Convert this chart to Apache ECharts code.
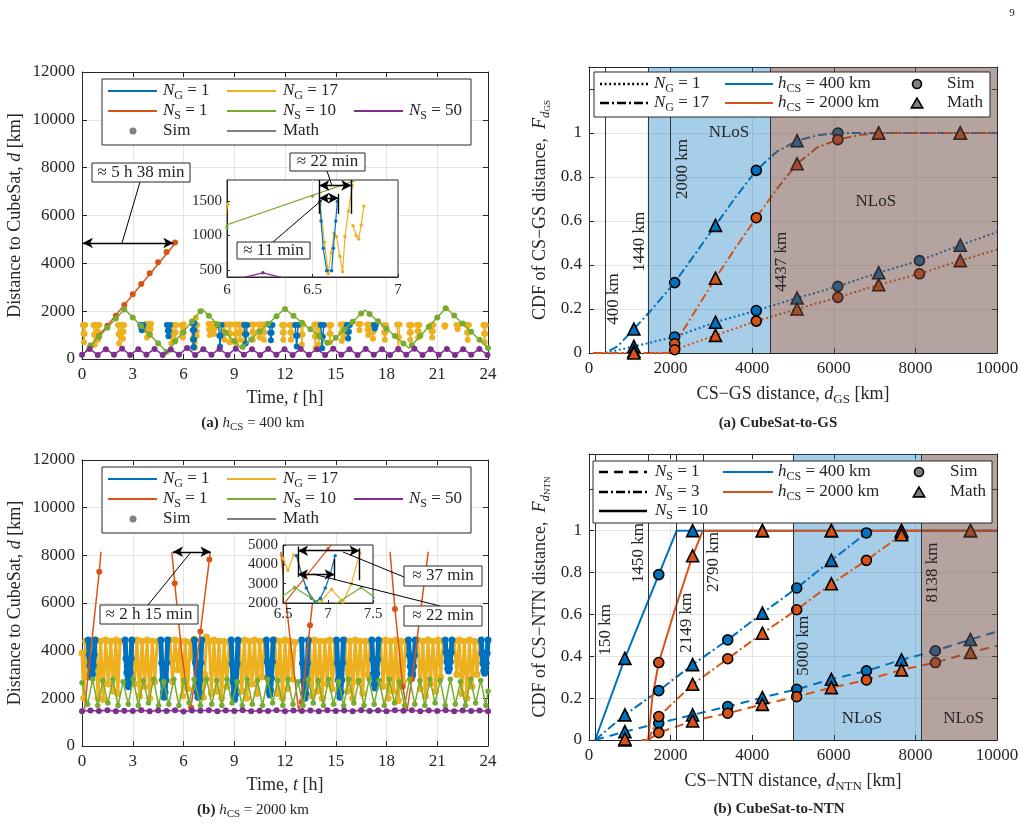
<!DOCTYPE html>
<html>
<head>
<meta charset="utf-8">
<script src="https://cdn.jsdelivr.net/npm/echarts@6.0.0/dist/echarts.min.js"></script>
<style>
  html, body { margin: 0; padding: 0; background: #fff; }
  #chart { width: 1034px; height: 826px; }
</style>
</head>
<body>
<div id="chart"></div>
<script>
// MATLAB default colour order
const BLUE = '#0072BD', ORANGE = '#D95319', YELLOW = '#EDB120', PURPLE = '#7E2F8E', GREEN = '#77AC30';
const INK = '#262626';
const SERIF = '"Liberation Serif", "DejaVu Serif", serif';

// ---------------- (a) h_CS = 400 km : distance vs time ----------------
// N_S = 1
const orangeA_math = [[0.45, 500], [5.55, 4870]];
const orangeA_sim = [[0.5, 530], [1.0, 950], [1.5, 1390], [2.0, 1810], [2.5, 2260], [3.0, 2710], [3.5, 3140],
  [4.0, 3590], [4.5, 4050], [5.0, 4470], [5.5, 4870]];
// N_S = 10
const greenA_math = [[0.2, 330], [2.52, 2080], [5.0, 300], [7.1, 2090], [9.42, 450], [11.98, 2100], [14.6, 620],
  [16.73, 2050], [19.33, 450], [21.52, 2140], [24, 460]];
const greenA_sim = [[0.5, 560], [1, 930], [1.5, 1310], [2, 1690], [2.5, 2070], [3, 1740], [3.5, 1380], [4, 1020],
  [4.5, 660], [5, 300], [5.5, 730], [6, 1110], [6.5, 1570], [7, 2000], [7.5, 1810], [8, 1450], [8.5, 1100],
  [9, 750], [9.5, 500], [10, 820], [10.5, 1150], [11, 1470], [11.5, 1790], [12, 2090], [12.5, 1810], [13, 1520],
  [13.5, 1240], [14, 960], [14.5, 680], [15, 890], [15.5, 1220], [16, 1560], [16.5, 1900], [17, 1880], [17.5, 1580],
  [18, 1270], [18.5, 960], [19, 650], [19.5, 580], [20, 970], [20.5, 1350], [21, 1740], [21.5, 2120], [22, 1820],
  [22.5, 1480], [23, 1140], [23.5, 800], [24, 460]];
// N_S = 50
const purpleA = [[0, 180], [0.45, 420], [0.93, 170], [1.41, 410], [1.89, 180], [2.37, 430], [2.85, 170], [3.33, 410],
  [3.81, 180], [4.29, 420], [4.77, 170], [5.25, 400], [5.73, 180], [6.21, 460], [6.69, 170], [7.17, 410], [7.65, 180],
  [8.13, 420], [8.61, 170], [9.09, 430], [9.57, 180], [10.05, 410], [10.53, 170], [11.01, 420], [11.49, 180],
  [11.97, 410], [12.45, 170], [12.93, 420], [13.41, 180], [13.89, 410], [14.37, 170], [14.85, 430], [15.33, 180],
  [15.81, 410], [16.29, 170], [16.77, 420], [17.25, 180], [17.73, 410], [18.21, 170], [18.69, 420], [19.17, 180],
  [19.65, 430], [20.13, 170], [20.61, 410], [21.09, 180], [21.57, 420], [22.05, 170], [22.53, 410], [23.01, 180],
  [23.49, 420], [23.97, 170]];
// N_G = 1 passes
const blueA = [
  [[3.45, 1420], [3.5, 1310], [3.54, 1200], [3.58, 1310], [3.63, 1420]],
  [[5.02, 1420], [5.07, 1185], [5.11, 950], [5.15, 1185], [5.2, 1420]],
  [[6.544, 1490], [6.55, 1210], [6.563, 814], [6.583, 490], [6.612, 490], [6.622, 814], [6.636, 1210], [6.645, 1490]],
  [[8.07, 1420], [8.12, 970], [8.16, 520], [8.2, 970], [8.25, 1420]],
  [[9.59, 1420], [9.64, 1035], [9.68, 650], [9.72, 1035], [9.77, 1420]],
  [[11.08, 1420], [11.13, 1100], [11.17, 780], [11.21, 1100], [11.26, 1420]],
  [[12.6, 1420], [12.65, 970], [12.69, 520], [12.73, 970], [12.78, 1420]],
  [[14.11, 1420], [14.16, 935], [14.2, 450], [14.24, 935], [14.29, 1420]],
  [[15.65, 1420], [15.7, 1140], [15.74, 860], [15.78, 1140], [15.83, 1420]],
  [[17.25, 1420], [17.31, 1280], [17.37, 1420]]
];
// N_G = 17 passes
const yellowA = [
  [[0.05, 1420], [0.085, 1060], [0.12, 700], [0.155, 1060], [0.19, 1420]],
  [[0.68, 1420], [0.715, 1010], [0.75, 600], [0.785, 1010], [0.82, 1420]],
  [[0.88, 1420], [0.915, 1110], [0.95, 800], [0.985, 1110], [1.02, 1420]],
  [[2.13, 1420], [2.165, 1035], [2.2, 650], [2.235, 1035], [2.27, 1420]],
  [[2.35, 1420], [2.385, 1135], [2.42, 850], [2.455, 1135], [2.49, 1420]],
  [[3.77, 1460], [3.805, 1180], [3.84, 900], [3.875, 1180], [3.91, 1460]],
  [[3.95, 1460], [3.985, 1230], [4.02, 1000], [4.055, 1230], [4.09, 1460]],
  [[5.21, 1420], [5.245, 1035], [5.28, 650], [5.315, 1035], [5.35, 1420]],
  [[5.43, 1420], [5.465, 1110], [5.5, 800], [5.535, 1110], [5.57, 1420]],
  [[5.89, 1420], [5.925, 1100], [5.96, 900], [5.99, 1250], [6.005, 1450]],
  [[6.545, 1440], [6.57, 900], [6.592, 452], [6.61, 750], [6.626, 1030], [6.64, 983], [6.66, 700], [6.676, 476],
    [6.69, 985], [6.71, 1350], [6.733, 1720]],
  [[6.737, 1140], [6.755, 1000], [6.77, 950], [6.785, 1150], [6.8, 1420]],
  [[7.48, 1460], [7.515, 1230], [7.55, 1000], [7.585, 1230], [7.62, 1460]],
  [[7.73, 1460], [7.765, 1250], [7.8, 1050], [7.835, 1250], [7.87, 1460]],
  [[8.36, 1440], [8.395, 1120], [8.43, 800], [8.465, 1120], [8.5, 1440]],
  [[8.66, 1440], [8.695, 1070], [8.73, 700], [8.765, 1070], [8.8, 1440]],
  [[9.03, 1440], [9.065, 1045], [9.1, 650], [9.135, 1045], [9.17, 1440]],
  [[9.28, 1440], [9.315, 1120], [9.35, 800], [9.385, 1120], [9.42, 1440]],
  [[9.53, 1440], [9.565, 1070], [9.6, 700], [9.635, 1070], [9.67, 1440]],
  [[10.03, 1440], [10.065, 1120], [10.1, 800], [10.135, 1120], [10.17, 1440]],
  [[10.43, 1440], [10.465, 1170], [10.5, 900], [10.535, 1170], [10.57, 1440]],
  [[10.68, 1440], [10.715, 1120], [10.75, 800], [10.785, 1120], [10.82, 1440]],
  [[11.83, 1420], [11.865, 1110], [11.9, 800], [11.935, 1110], [11.97, 1420]],
  [[12.28, 1420], [12.315, 1110], [12.35, 800], [12.385, 1110], [12.42, 1420]],
  [[12.93, 1440], [12.965, 1020], [13.0, 600], [13.035, 1020], [13.07, 1440]],
  [[13.73, 1440], [13.765, 945], [13.8, 450], [13.835, 945], [13.87, 1440]],
  [[13.93, 1440], [13.965, 1020], [14.0, 600], [14.035, 1020], [14.07, 1440]],
  [[14.59, 1420], [14.625, 1060], [14.66, 700], [14.695, 1060], [14.73, 1420]],
  [[15.28, 1440], [15.315, 1095], [15.35, 750], [15.385, 1095], [15.42, 1440]],
  [[15.48, 1440], [15.515, 1170], [15.55, 900], [15.585, 1170], [15.62, 1440]],
  [[16.34, 1460], [16.4, 1200], [16.46, 1460]],
  [[16.85, 1440], [16.885, 1220], [16.92, 1000], [16.955, 1220], [16.99, 1440]],
  [[17.13, 1420], [17.165, 1135], [17.2, 850], [17.235, 1135], [17.27, 1420]],
  [[17.83, 1420], [17.865, 1110], [17.9, 800], [17.935, 1110], [17.97, 1420]],
  [[18.63, 1440], [18.665, 920], [18.7, 400], [18.735, 920], [18.77, 1440]],
  [[19.33, 1420], [19.365, 1110], [19.4, 800], [19.435, 1110], [19.47, 1420]],
  [[19.8, 1420], [19.835, 1160], [19.87, 900], [19.905, 1160], [19.94, 1420]],
  [[20.63, 1420], [20.665, 1160], [20.7, 900], [20.735, 1160], [20.77, 1420]],
  [[21.42, 1400], [21.45, 1350], [21.48, 1400]],
  [[22.14, 1420], [22.2, 1250], [22.26, 1420]],
  [[22.73, 1420], [22.765, 1110], [22.8, 800], [22.835, 1110], [22.87, 1420]],
  [[23.73, 1420], [23.765, 1060], [23.8, 700], [23.835, 1060], [23.87, 1420]]
];

// ---------------- (b) h_CS = 2000 km : distance vs time ----------------
const orangeC_math = [
  [[0.15, 1550], [1.02, 7310], [1.12, 8150]],
  [[5.31, 8150], [5.48, 6830], [5.9, 3900], [6.2, 2300], [6.42, 1580], [6.5, 1900], [7.0, 4800], [7.53, 7830], [7.58, 8150]],
  [[11.75, 8150], [12.3, 4500], [12.8, 1510], [12.98, 1860], [13.48, 5070], [13.96, 8150]],
  [[18.21, 8150], [18.5, 5750], [18.96, 2490], [19.22, 1500], [19.6, 3300], [20.0, 5600], [20.47, 8150]]
];
const orangeC_sim = [[1.02, 7310], [5.48, 6830], [6.45, 1600], [7.0, 4800], [7.53, 7830], [12.98, 1860], [13.48, 5070],
  [18.5, 5750], [18.96, 2490], [19.5, 2800]];
const greenC = [[0, 2650], [0.33, 1750], [0.63, 2800], [0.93, 1700], [1.23, 2750], [1.53, 1800], [1.83, 2800],
  [2.13, 1700], [2.43, 2700], [2.73, 1750], [3.03, 2800], [3.33, 1700], [3.63, 2750], [3.93, 1800], [4.23, 2800],
  [4.53, 1700], [4.83, 2700], [5.13, 1750], [5.43, 2800], [5.73, 1700], [6.03, 2750], [6.33, 1800], [6.63, 2800],
  [7.0, 1700], [7.37, 2800], [7.67, 1750], [7.97, 2750], [8.27, 1700], [8.57, 2800], [8.87, 1800], [9.17, 2700],
  [9.47, 1700], [9.77, 2800], [10.07, 1750], [10.37, 2750], [10.67, 1700], [10.97, 2800], [11.27, 1800], [11.57, 2750],
  [11.87, 1700], [12.17, 2800], [12.47, 1750], [12.77, 2700], [13.07, 1700], [13.37, 2800], [13.67, 1800], [13.97, 2750],
  [14.27, 1700], [14.57, 2800], [14.87, 1750], [15.17, 2700], [15.47, 1700], [15.77, 2800], [16.07, 1800], [16.37, 2750],
  [16.67, 1700], [16.97, 2800], [17.27, 1750], [17.57, 2750], [17.87, 1700], [18.17, 2800], [18.47, 1800], [18.77, 2700],
  [19.07, 1700], [19.37, 2800], [19.67, 1750], [19.97, 2750], [20.27, 1700], [20.57, 2800], [20.87, 1800], [21.17, 2750],
  [21.47, 1700], [21.77, 2800], [22.07, 1750], [22.37, 2700], [22.67, 1700], [22.97, 2800], [23.27, 1800], [23.57, 2750],
  [23.87, 1700], [24, 2300]];
const purpleC = [[0, 1460], [0.5, 1490], [1, 1470], [1.5, 1500], [2, 1460], [2.5, 1480], [3, 1470], [3.5, 1500],
  [4, 1460], [4.5, 1490], [5, 1470], [5.5, 1500], [6, 1450], [6.5, 1490], [7, 1480], [7.5, 1500], [8, 1460],
  [8.5, 1490], [9, 1470], [9.5, 1500], [10, 1460], [10.5, 1480], [11, 1470], [11.5, 1500], [12, 1460], [12.5, 1490],
  [13, 1470], [13.5, 1490], [14, 1460], [14.5, 1500], [15, 1470], [15.5, 1490], [16, 1460], [16.5, 1500], [17, 1470],
  [17.5, 1490], [18, 1460], [18.5, 1500], [19, 1480], [19.5, 1500], [20, 1460], [20.5, 1490], [21, 1470], [21.5, 1500],
  [22, 1460], [22.5, 1490], [23, 1470], [23.5, 1490], [24, 1460]];
const blueC = [
  [[0.37, 4450], [0.42, 3830], [0.47, 3365], [0.52, 3025], [0.57, 2900], [0.62, 3025], [0.67, 3365], [0.72, 3830], [0.77, 4450]],
  [[2.55, 4450], [2.6, 3670], [2.65, 3080], [2.7, 2650], [2.75, 2490], [2.8, 2650], [2.85, 3080], [2.9, 3670], [2.95, 4450]],
  [[4.66, 4450], [4.71, 3490], [4.76, 2770], [4.81, 2240], [4.86, 2050], [4.91, 2240], [4.96, 2770], [5.01, 3490], [5.06, 4450]],
  [[6.65, 4450], [6.705, 3490], [6.76, 2770], [6.815, 2240], [6.86, 2050], [6.915, 2240], [6.97, 2770], [7.025, 3490], [7.08, 4450]],
  [[8.82, 4450], [8.87, 3450], [8.92, 2700], [8.97, 2150], [9.02, 1950], [9.07, 2150], [9.12, 2700], [9.17, 3450], [9.22, 4450]],
  [[10.9, 4450], [10.95, 3530], [11.0, 2840], [11.05, 2330], [11.1, 2150], [11.15, 2330], [11.2, 2840], [11.25, 3530], [11.3, 4450]],
  [[12.98, 4450], [13.03, 3470], [13.08, 2740], [13.13, 2200], [13.18, 2000], [13.23, 2200], [13.28, 2740], [13.33, 3470], [13.38, 4450]],
  [[15.05, 4450], [15.1, 3490], [15.15, 2770], [15.2, 2240], [15.25, 2050], [15.3, 2240], [15.35, 2770], [15.4, 3490], [15.45, 4450]],
  [[17.13, 4450], [17.18, 3640], [17.23, 3040], [17.28, 2590], [17.33, 2430], [17.38, 2590], [17.43, 3040], [17.48, 3640], [17.53, 4450]],
  [[19.3, 4450], [19.35, 3820], [19.4, 3350], [19.45, 3010], [19.5, 2880], [19.55, 3010], [19.6, 3350], [19.65, 3820], [19.7, 4450]],
  [[21.47, 4450], [21.52, 3930], [21.57, 3540], [21.62, 3250], [21.67, 3150], [21.72, 3250], [21.77, 3540], [21.82, 3930], [21.87, 4450]],
  [[23.6, 4450], [23.65, 3890], [23.7, 3470], [23.75, 3160], [23.8, 3050], [23.85, 3160], [23.9, 3470], [23.95, 3890], [24.0, 4450]]
];
const yellowC = [
  [[0, 3900], [0.1, 2000], [0.22, 4400], [0.33, 2900], [0.45, 4400]],
  [[0.8, 4450], [0.95, 2000], [1.1, 4400], [1.25, 1950], [1.4, 4450], [1.55, 2600], [1.7, 4400], [1.85, 2300],
    [2.0, 4450], [2.12, 2200], [2.25, 4400]],
  [[2.95, 4400], [3.1, 2600], [3.25, 4450], [3.4, 2100], [3.55, 4400], [3.7, 2500], [3.85, 4450], [4.0, 2000],
    [4.15, 4400], [4.3, 2700], [4.45, 4400]],
  [[5.2, 4450], [5.35, 2700], [5.5, 4450], [5.65, 3200], [5.8, 4400], [5.95, 2100], [6.1, 4400], [6.25, 2400],
    [6.4, 4350], [6.5, 4310], [6.555, 3700], [6.62, 4480], [6.65, 4450], [6.76, 2770], [6.86, 2050], [6.93, 2140],
    [7.04, 2700], [7.167, 2050], [7.26, 3000], [7.352, 4570]],
  [[7.52, 4400], [7.65, 2200], [7.8, 4450], [7.95, 2300], [8.1, 4400], [8.25, 2000], [8.4, 4400], [8.55, 2500], [8.7, 4350]],
  [[9.3, 4400], [9.45, 2300], [9.6, 4450], [9.75, 2000], [9.9, 4400], [10.05, 2600], [10.2, 4450], [10.35, 2200],
    [10.5, 4400], [10.65, 2900], [10.8, 4400]],
  [[11.4, 4450], [11.55, 2200], [11.7, 4400], [11.85, 2000], [12.0, 4450], [12.15, 2400], [12.3, 4400], [12.45, 2800], [12.6, 4350]],
  [[13.45, 4400], [13.6, 2100], [13.75, 4450], [13.9, 2300], [14.05, 4400], [14.2, 2000], [14.35, 4400], [14.5, 2600],
    [14.65, 4450], [14.8, 2400], [14.95, 4400]],
  [[15.55, 4450], [15.7, 2300], [15.85, 4400], [16.0, 2000], [16.15, 4450], [16.3, 2700], [16.45, 4400], [16.6, 2200],
    [16.75, 4400], [16.9, 3000], [17.05, 4350]],
  [[17.65, 4400], [17.8, 2500], [17.95, 4450], [18.1, 2000], [18.25, 4400], [18.4, 2300], [18.55, 4450], [18.7, 1900],
    [18.85, 4400], [19.0, 2700], [19.15, 4400]],
  [[19.85, 4450], [20.0, 2400], [20.15, 4400], [20.3, 2100], [20.45, 4450], [20.6, 2600], [20.75, 4400], [20.9, 2300],
    [21.05, 4450], [21.2, 2900], [21.35, 4400]],
  [[22.0, 4400], [22.15, 3000], [22.3, 4450], [22.45, 2200], [22.6, 4400], [22.75, 2000], [22.9, 4450], [23.05, 2500],
    [23.2, 4400], [23.35, 3000], [23.5, 4350]]
];

// ---------------- CubeSat-to-GS CDF ----------------
const gsBlueRegion = [1440, 4437], gsBrownRegion = [4437, 10000];
const gsRefKm = [400, 1440, 2000, 4437];
const gsG1h400 = [[400, 0], [1100, 0.03], [2100, 0.073], [3100, 0.14], [4100, 0.193], [5100, 0.25], [6100, 0.303],
  [7100, 0.365], [8100, 0.42], [9100, 0.49], [10000, 0.55]];
const gsG17h400 = [[100, 0], [400, 0], [700, 0.03], [1100, 0.109], [1500, 0.19], [2100, 0.32], [2600, 0.45], [3100, 0.58],
  [3600, 0.71], [4100, 0.83], [4600, 0.915], [5100, 0.965], [5600, 0.99], [6100, 1.0], [10000, 1.0]];
const gsG1h2000 = [[100, 0], [2000, 0], [2100, 0.015], [3100, 0.08], [4100, 0.145], [5100, 0.2], [6100, 0.253],
  [7100, 0.31], [8100, 0.36], [9100, 0.42], [10000, 0.47]];
const gsG17h2000 = [[100, 0], [1950, 0], [2100, 0.04], [2600, 0.19], [3100, 0.34], [3600, 0.48], [4100, 0.615],
  [4600, 0.745], [5100, 0.86], [5600, 0.935], [6100, 0.97], [6600, 0.99], [7100, 1.0], [10000, 1.0]];
const gsSimBlue = [[2100, 0.32], [4100, 0.83], [6100, 1.0], [2100, 0.073], [4100, 0.193], [6100, 0.303], [8100, 0.42]];
const gsMathBlue = [[1100, 0.109], [3100, 0.58], [5100, 0.965], [7100, 1.0], [9100, 1.0], [1100, 0.03], [3100, 0.14],
  [5100, 0.25], [7100, 0.365], [9100, 0.49]];
const gsSimOrange = [[2100, 0.042], [4100, 0.615], [6100, 0.97], [2100, 0.015], [4100, 0.145], [6100, 0.253], [8100, 0.36]];
const gsMathOrange = [[1100, 0.008], [3100, 0.34], [5100, 0.86], [7100, 1.0], [9100, 1.0], [1100, 0.0], [3100, 0.08],
  [5100, 0.2], [7100, 0.31], [9100, 0.42]];

// ---------------- CubeSat-to-NTN CDF ----------------
const ntnBlueRegion = [5000, 8138], ntnBrownRegion = [8138, 10000];
const ntnRefKm = [150, 1450, 2149, 2790, 5000, 8138];
const ntnS10h400 = [[150, 0], [880, 0.39], [1710, 0.79], [2149, 1], [10000, 1]];
const ntnS10h2000 = [[1290, 0], [1450, 0], [1550, 0.2], [1710, 0.37], [2100, 0.62], [2540, 0.88], [2790, 1], [10000, 1]];
const ntnS3h400 = [[150, 0], [880, 0.12], [1710, 0.236], [2540, 0.36], [3400, 0.478], [4250, 0.606], [5090, 0.726],
  [5940, 0.858], [6800, 0.989], [6900, 1], [10000, 1]];
const ntnS3h2000 = [[1450, 0], [1710, 0.112], [2540, 0.266], [3400, 0.388], [4250, 0.51], [5090, 0.622], [5940, 0.746],
  [6800, 0.858], [7660, 0.98], [7750, 1], [10000, 1]];
const ntnS1h400 = [[150, 0], [880, 0.04], [1710, 0.08], [2540, 0.12], [3400, 0.16], [4250, 0.203], [5090, 0.242],
  [5940, 0.29], [6800, 0.33], [7660, 0.383], [8490, 0.426], [9350, 0.48], [10000, 0.518]];
const ntnS1h2000 = [[1450, 0], [1710, 0.035], [2540, 0.091], [3400, 0.128], [4250, 0.17], [5090, 0.207], [5940, 0.25],
  [6800, 0.287], [7660, 0.335], [8490, 0.37], [9350, 0.418], [10000, 0.45]];
const ntnSimBlue = [[1710, 0.79], [1710, 0.236], [3400, 0.478], [5090, 0.726], [6800, 0.989], [1710, 0.08], [3400, 0.16],
  [5090, 0.242], [6800, 0.33], [8490, 0.426]];
const ntnMathBlue = [[880, 0.39], [2540, 1], [4250, 1], [5940, 1], [7660, 1], [9350, 1], [880, 0.12], [2540, 0.36],
  [4250, 0.606], [5940, 0.858], [7660, 0.99], [880, 0.04], [2540, 0.12], [4250, 0.203], [5940, 0.29], [7660, 0.383], [9350, 0.48]];
const ntnSimOrange = [[1710, 0.37], [1710, 0.112], [3400, 0.388], [5090, 0.622], [6800, 0.858], [1710, 0.035],
  [3400, 0.128], [5090, 0.207], [6800, 0.287], [8490, 0.37]];
const ntnMathOrange = [[2540, 0.88], [4250, 1], [5940, 1], [7660, 1], [9350, 1], [880, 0], [2540, 0.266], [4250, 0.51],
  [5940, 0.746], [7660, 0.98], [880, 0.005], [2540, 0.091], [4250, 0.17], [5940, 0.25], [7660, 0.335], [9350, 0.418]];

// ---------------- helpers ----------------
function joinPasses(list) {
  const out = [];
  list.forEach(function (p, i) {
    if (i) out.push(['-', '-']);
    p.forEach(function (q) { out.push(q); });
  });
  return out;
}

function richE(size) {
  const sub = Math.round(size * 0.7);
  return {
    i: { fontStyle: 'italic', fontFamily: SERIF, fontSize: size, color: INK },
    s: { fontFamily: SERIF, fontSize: sub, color: INK, verticalAlign: 'bottom', lineHeight: sub },
    si: { fontStyle: 'italic', fontFamily: SERIF, fontSize: sub, color: INK, verticalAlign: 'bottom', lineHeight: sub },
    ss: { fontFamily: SERIF, fontSize: Math.round(size * 0.5), color: INK, verticalAlign: 'bottom', lineHeight: 5 }
  };
}
function richZ(size) {
  const sub = Math.round(size * 0.7);
  return {
    i: { fontStyle: 'italic', fontFamily: SERIF, fontSize: size, fill: INK },
    b: { fontWeight: 'bold', fontFamily: SERIF, fontSize: size, fill: INK },
    s: { fontFamily: SERIF, fontSize: sub, fill: INK, verticalAlign: 'bottom', lineHeight: sub }
  };
}

const grids = [
  { left: 82, top: 72, width: 406, height: 287 },
  { left: 589, top: 67, width: 408, height: 286 },
  { left: 82, top: 460, width: 406, height: 286 },
  { left: 589, top: 454, width: 408, height: 286 },
  { left: 227, top: 180, width: 171, height: 97, show: true, backgroundColor: '#fff', borderColor: INK, borderWidth: 1, zlevel: 1 },
  { left: 283, top: 545, width: 90, height: 58, show: true, backgroundColor: '#fff', borderColor: INK, borderWidth: 1, zlevel: 1 }
];

function axis(gi, min, max, interval, o) {
  o = o || {};
  const a = {
    type: 'value', gridIndex: gi, min: min, max: max, interval: interval,
    zlevel: o.zlevel || 0, position: o.position,
    axisLine: { show: true, onZero: false, lineStyle: { color: INK, width: 1 } },
    axisTick: { show: true, inside: true, length: o.tick || 5, lineStyle: { color: INK }, customValues: o.custom },
    axisLabel: {
      show: o.labels !== false, color: INK, fontFamily: SERIF, fontSize: o.font || 17, margin: o.margin || 7,
      formatter: o.fmt || function (v) { return String(v); }, customValues: o.custom
    },
    splitLine: { show: o.split !== false, showMinLine: false, showMaxLine: false, lineStyle: { color: '#e4e4e4', width: 1 } }
  };
  if (o.name) {
    a.name = o.name; a.nameLocation = 'middle'; a.nameGap = o.gap;
    a.nameTextStyle = { fontFamily: SERIF, fontSize: 18, color: INK, lineHeight: 24, rich: richE(18) };
  }
  return a;
}
const cdfFmt = function (v) { return v > 1.0001 ? '' : String(Math.round(v * 10) / 10); };

const xAxes = [
  axis(0, 0, 24, 3, { name: 'Time, {i|t} [h]', gap: 27 }),
  axis(1, 0, 10000, 2000, { name: 'CS\u2212GS distance, {i|d}{s|GS} [km]', gap: 29 }),
  axis(2, 0, 24, 3, { name: 'Time, {i|t} [h]', gap: 27 }),
  axis(3, 0, 10000, 2000, { name: 'CS\u2212NTN distance, {i|d}{s|NTN} [km]', gap: 29 }),
  axis(4, 6, 7, 0.5, { zlevel: 1, font: 15, margin: 6, tick: 3 }),
  axis(5, 6.5, 7.5, 0.5, { zlevel: 1, font: 15, margin: 4, tick: 3, split: false }),
  axis(0, 0, 24, 3, { position: 'top', labels: false, split: false }),
  axis(1, 0, 10000, 2000, { position: 'top', labels: false, split: false }),
  axis(2, 0, 24, 3, { position: 'top', labels: false, split: false }),
  axis(3, 0, 10000, 2000, { position: 'top', labels: false, split: false })
];
const yAxes = [
  axis(0, 0, 12000, 2000, { name: 'Distance to CubeSat, {i|d} [km]', gap: 55 }),
  axis(1, 0, 1.3, 0.2, { name: 'CDF of CS\u2212GS distance,  {i|F}{si|d}{ss|GS}', gap: 37, fmt: cdfFmt }),
  axis(2, 0, 12000, 2000, { name: 'Distance to CubeSat, {i|d} [km]', gap: 55 }),
  axis(3, 0, 1.366, 0.2, { name: 'CDF of CS\u2212NTN distance,  {i|F}{si|d}{ss|NTN}', gap: 37, fmt: cdfFmt }),
  axis(4, 400, 1800, null, { zlevel: 1, font: 15, margin: 5, tick: 3, split: false, custom: [500, 1000, 1500] }),
  axis(5, 2000, 5000, 1000, { zlevel: 1, font: 15, margin: 5, tick: 3, split: false }),
  axis(0, 0, 12000, 2000, { position: 'right', labels: false, split: false }),
  axis(1, 0, 1.3, 0.2, { position: 'right', labels: false, split: false }),
  axis(2, 0, 12000, 2000, { position: 'right', labels: false, split: false }),
  axis(3, 0, 1.366, 0.2, { position: 'right', labels: false, split: false })
];

const series = [];
function add(s) { series.push(Object.assign({ animation: false, silent: true }, s)); }
function line(ax, data, color, width, o) {
  o = o || {};
  add({
    type: 'line', xAxisIndex: ax, yAxisIndex: ax, data: data, zlevel: o.zlevel || 0, z: o.z || 2,
    showSymbol: !!o.sym, symbol: 'circle', symbolSize: o.sym || 4,
    itemStyle: { color: color },
    lineStyle: { color: color, width: width, type: o.dash || 'solid', cap: 'butt' },
    connectNulls: false, clip: true
  });
}
function marks(ax, data, color, shape, size, o) {
  o = o || {};
  add({
    type: 'scatter', xAxisIndex: ax, yAxisIndex: ax, data: data, zlevel: o.zlevel || 0, z: o.z || 3,
    symbol: shape, symbolSize: size,
    itemStyle: { color: color, borderColor: o.edge || color, borderWidth: o.edge ? 1.6 : 0, opacity: 1 },
    clip: true
  });
}
function arrows(ax, segs, bars, zlevel) {
  add({
    type: 'line', xAxisIndex: ax, yAxisIndex: ax, data: [], zlevel: zlevel || 0, z: 20,
    markLine: {
      silent: true, zlevel: zlevel || 0, z: 20, animation: false, label: { show: false },
      lineStyle: { color: '#000', width: 1.4, type: 'solid' }, symbol: ['arrow', 'arrow'], symbolSize: [8, 10],
      data: segs.map(function (s) { return [{ coord: s[0] }, { coord: s[1] }]; })
    }
  });
  if (bars) {
    add({
      type: 'line', xAxisIndex: ax, yAxisIndex: ax, data: [], zlevel: zlevel || 0, z: 20,
      markLine: {
        silent: true, zlevel: zlevel || 0, z: 20, animation: false, label: { show: false },
        lineStyle: { color: '#000', width: 1.4, type: 'solid' }, symbol: 'none',
        data: bars.map(function (s) { return [{ coord: s[0] }, { coord: s[1] }]; })
      }
    });
  }
}
function regions(ax, blue, brown, refKm) {
  add({
    type: 'line', xAxisIndex: ax, yAxisIndex: ax, data: [],
    markArea: { silent: true, z: 1, itemStyle: { color: 'rgba(0,114,189,0.35)' }, data: [[{ xAxis: blue[0] }, { xAxis: blue[1] }]] }
  });
  add({
    type: 'line', xAxisIndex: ax, yAxisIndex: ax, data: [], z: 10,
    markArea: { silent: true, z: 10, itemStyle: { color: 'rgba(107,71,65,0.5)' }, data: [[{ xAxis: brown[0] }, { xAxis: brown[1] }]] },
    markLine: {
      silent: true, z: 11, symbol: 'none', animation: false, label: { show: false },
      lineStyle: { color: '#333', width: 1, type: 'solid' },
      data: refKm.map(function (v) { return { xAxis: v }; })
    }
  });
}

// ---- time panels and their zoomed insets ----
[[0, 0], [4, 1]].forEach(function (c) {
  const ax = c[0], zl = c[1], main = ax === 0;
  const lw = main ? 1.5 : 1.2, ds = main ? 6 : 3.5;
  line(ax, joinPasses(yellowA), YELLOW, lw, { sym: ds, z: 2, zlevel: zl });
  line(ax, joinPasses(blueA), BLUE, lw, { sym: ds, z: 3, zlevel: zl });
  line(ax, orangeA_math, ORANGE, lw, { z: 4, zlevel: zl });
  marks(ax, orangeA_sim, ORANGE, 'circle', ds, { z: 4, zlevel: zl });
  line(ax, greenA_math, GREEN, lw, { z: 5, zlevel: zl });
  marks(ax, greenA_sim, GREEN, 'circle', ds, { z: 5, zlevel: zl });
  line(ax, purpleA, PURPLE, lw, { sym: ds, z: 6, zlevel: zl });
});
[[2, 0], [5, 1]].forEach(function (c) {
  const ax = c[0], zl = c[1], main = ax === 2;
  const lw = main ? 1.5 : 1.2, ds = main ? 6 : 3.5;
  line(ax, joinPasses(yellowC), YELLOW, main ? 3 : 1.2, { sym: main ? 7 : 3.5, z: 2, zlevel: zl });
  line(ax, joinPasses(blueC), BLUE, main ? 5 : 1.2, { sym: main ? 7 : 3.5, z: 3, zlevel: zl });
  line(ax, joinPasses(orangeC_math), ORANGE, lw, { z: 4, zlevel: zl });
  marks(ax, orangeC_sim, ORANGE, 'circle', ds, { z: 4, zlevel: zl });
  line(ax, greenC, GREEN, lw, { sym: main ? 5.5 : 3.5, z: 5, zlevel: zl });
  line(ax, purpleC, PURPLE, lw, { sym: ds, z: 6, zlevel: zl });
});

// annotation arrows (data coordinates)
arrows(0, [[[0.05, 4850], [5.4, 4850]]]);
arrows(4, [[[6.54, 1722], [6.727, 1722]], [[6.54, 1539], [6.651, 1539]]],
  [[[6.54, 1800], [6.54, 1311]], [[6.727, 1800], [6.727, 1311]], [[6.651, 1600], [6.651, 1311]]], 1);
arrows(2, [[[5.38, 8150], [7.6, 8150]]]);
arrows(5, [[[6.667, 4704], [7.35, 4704]], [[6.667, 3476], [7.074, 3476]]],
  [[[6.667, 4915], [6.667, 3350]], [[7.35, 4830], [7.35, 3180]], [[7.074, 4280], [7.074, 3180]]], 1);

// ---- CDF panels ----
const DOT = [2, 2.6], DASHDOT = [9, 3, 2, 3], DASH = [9, 6];
regions(1, gsBlueRegion, gsBrownRegion, gsRefKm);
line(1, gsG1h400, BLUE, 2, { dash: DOT, z: 4 });
line(1, gsG17h400, BLUE, 2, { dash: DASHDOT, z: 4 });
line(1, gsG1h2000, ORANGE, 2, { dash: DOT, z: 5 });
line(1, gsG17h2000, ORANGE, 2, { dash: DASHDOT, z: 5 });
marks(1, gsMathBlue, BLUE, 'triangle', 12, { edge: '#000', z: 6 });
marks(1, gsSimBlue, BLUE, 'circle', 10, { edge: '#000', z: 6 });
marks(1, gsMathOrange, ORANGE, 'triangle', 12, { edge: '#000', z: 7 });
marks(1, gsSimOrange, ORANGE, 'circle', 10, { edge: '#000', z: 7 });

regions(3, ntnBlueRegion, ntnBrownRegion, ntnRefKm);
line(3, ntnS1h400, BLUE, 2, { dash: DASH, z: 4 });
line(3, ntnS3h400, BLUE, 2, { dash: DASHDOT, z: 4 });
line(3, ntnS10h400, BLUE, 2, { z: 4 });
line(3, ntnS1h2000, ORANGE, 2, { dash: DASH, z: 5 });
line(3, ntnS3h2000, ORANGE, 2, { dash: DASHDOT, z: 5 });
line(3, ntnS10h2000, ORANGE, 2, { z: 5 });
marks(3, ntnMathBlue, BLUE, 'triangle', 12, { edge: '#000', z: 6 });
marks(3, ntnSimBlue, BLUE, 'circle', 10, { edge: '#000', z: 6 });
marks(3, ntnMathOrange, ORANGE, 'triangle', 12, { edge: '#000', z: 7 });
marks(3, ntnSimOrange, ORANGE, 'circle', 10, { edge: '#000', z: 7 });

// in-plot text: [grid, [x, y] in data units, text, rotated?]
const plotTexts = [];
[[610, 0.245], [1250, 0.506], [2300, 0.836], [4720, 0.415]].forEach(function (p, i) {
  plotTexts.push([1, p, gsRefKm[i] + ' km', true]);
});
plotTexts.push([1, [3430, 1.0], 'NLoS', false], [1, [7030, 0.69], 'NLoS', false]);
[[400, 0.526], [1210, 0.893], [2400, 0.56], [3050, 0.85], [5260, 0.45], [8420, 0.8]].forEach(function (p, i) {
  plotTexts.push([3, p, ntnRefKm[i] + ' km', true]);
});
plotTexts.push([3, [6690, 0.104], 'NLoS', false], [3, [9180, 0.104], 'NLoS', false]);

// ---- legends, annotation boxes and captions (drawn on top) ----
const G = [];
function gl(x1, y1, x2, y2, stroke, w, dash) {
  G.push({ type: 'line', zlevel: 2, silent: true, shape: { x1: x1, y1: y1, x2: x2, y2: y2 },
    style: { stroke: stroke, lineWidth: w, lineDash: dash || null } });
}
function gr(x, y, w, h) {
  G.push({ type: 'rect', zlevel: 2, silent: true, shape: { x: x, y: y, width: w, height: h },
    style: { fill: '#fff', stroke: INK, lineWidth: 1 } });
}
function gt(x, y, text, size, align, weight, rot) {
  G.push({ type: 'text', zlevel: 2, z: 5, silent: true, x: x, y: y, rotation: rot || 0,
    style: { text: text, fill: INK, font: (weight || 'normal') + ' ' + size + 'px ' + SERIF, align: align || 'left',
      verticalAlign: 'middle', lineHeight: size + 5, rich: richZ(size) } });
}
function gdot(cx, cy, r, fill, stroke) {
  G.push({ type: 'circle', zlevel: 2, z: 5, silent: true, shape: { cx: cx, cy: cy, r: r },
    style: { fill: fill, stroke: stroke || null, lineWidth: stroke ? 1.6 : 0 } });
}
function gtri(cx, cy, s, fill, stroke) {
  G.push({ type: 'polygon', zlevel: 2, z: 5, silent: true,
    shape: { points: [[cx, cy - s], [cx - s * 0.95, cy + s * 0.65], [cx + s * 0.95, cy + s * 0.65]] },
    style: { fill: fill, stroke: stroke, lineWidth: 1.6 } });
}

function timeLegend(top) {
  gr(102, top, 369, 66);
  const r1 = top + 12, r2 = top + 32, r3 = top + 52;
  gl(108, r1, 157, r1, BLUE, 2); gt(163, r1, '{i|N}{s|G} = 1', 17);
  gl(227, r1, 276, r1, YELLOW, 2); gt(283, r1, '{i|N}{s|G} = 17', 17);
  gl(108, r2, 157, r2, ORANGE, 2); gt(163, r2, '{i|N}{s|S} = 1', 17);
  gl(227, r2, 276, r2, GREEN, 2); gt(283, r2, '{i|N}{s|S} = 10', 17);
  gl(354, r2, 403, r2, PURPLE, 2); gt(409, r2, '{i|N}{s|S} = 50', 17);
  gdot(133, r3, 3.5, '#808080'); gt(163, r3, 'Sim', 17);
  gl(227, r3, 276, r3, '#808080', 2); gt(283, r3, 'Math', 17);
}
timeLegend(79);
timeLegend(467);

// CubeSat-to-GS legend
gr(594, 72, 396, 45);
gl(600, 84, 649, 84, '#000', 2.5, DOT); gt(654, 84, '{i|N}{s|G} = 1', 17);
gl(600, 103, 649, 103, '#000', 2.5, DASHDOT); gt(654, 103, '{i|N}{s|G} = 17', 17);
gl(725, 84, 773, 84, BLUE, 2); gt(778, 84, '{i|h}{s|CS} = 400 km', 17);
gl(725, 103, 773, 103, ORANGE, 2); gt(778, 103, '{i|h}{s|CS} = 2000 km', 17);
gdot(917, 84, 4.5, '#808080', '#000'); gt(947, 84, 'Sim', 17);
gtri(917, 104, 6, '#808080', '#000'); gt(947, 103, 'Math', 17);

// CubeSat-to-NTN legend
gr(593, 461, 399, 62);
gl(599, 472, 647, 472, '#000', 2.5, DASH); gt(655, 472, '{i|N}{s|S} = 1', 17);
gl(599, 492, 647, 492, '#000', 2.5, DASHDOT); gt(655, 492, '{i|N}{s|S} = 3', 17);
gl(599, 511, 647, 511, '#000', 2.5); gt(655, 511, '{i|N}{s|S} = 10', 17);
gl(723, 472, 773, 472, BLUE, 2); gt(778, 472, '{i|h}{s|CS} = 400 km', 17);
gl(723, 492, 773, 492, ORANGE, 2); gt(778, 492, '{i|h}{s|CS} = 2000 km', 17);
gdot(919, 472, 4.5, '#808080', '#000'); gt(950, 472, 'Sim', 17);
gtri(919, 493, 6, '#808080', '#000'); gt(950, 492, 'Math', 17);

// annotation boxes and leader lines
gl(140, 182, 122, 243, '#000', 1); gr(92, 163, 98, 19); gt(141, 173, '\u2248 5 h 38 min', 17, 'center');
gl(327, 171, 332, 186, '#000', 1); gr(290, 153, 75, 18); gt(327.5, 162, '\u2248 22 min', 17, 'center');
gl(273, 242, 323, 199, '#000', 1); gr(237, 242, 73, 17); gt(273.5, 250.5, '\u2248 11 min', 17, 'center');
gl(148, 605, 191, 552, '#000', 1); gr(100, 605, 98, 19); gt(149, 614.5, '\u2248 2 h 15 min', 17, 'center');
gl(343, 552, 404, 577, '#000', 1); gr(404, 566, 78, 20); gt(443, 576, '\u2248 37 min', 17, 'center');
gl(313, 574, 440, 606, '#000', 1); gr(404, 606, 78, 20); gt(443, 616, '\u2248 22 min', 17, 'center');

// captions and page number
gt(253, 423, '{b|(a)} {i|h}{s|CS} = 400 km', 15, 'center');
gt(253, 810, '{b|(b)} {i|h}{s|CS} = 2000 km', 15, 'center');
gt(778, 423, '{b|(a) CubeSat-to-GS}', 15, 'center');
gt(779, 809, '{b|(b) CubeSat-to-NTN}', 15, 'center');
gt(1012, 13, '9', 11, 'center');

const chart = echarts.init(document.getElementById('chart'), null, { renderer: 'canvas' });
chart.setOption({
  animation: false,
  backgroundColor: '#fff',
  textStyle: { fontFamily: SERIF },
  grid: grids,
  xAxis: xAxes,
  yAxis: yAxes,
  series: series
});
// place in-plot labels through the axes' own scales
plotTexts.forEach(function (t) {
  const px = chart.convertToPixel({ gridIndex: t[0] }, t[1]);
  gt(px[0], px[1], t[2], 17, 'center', 'normal', t[3] ? Math.PI / 2 : 0);
});
chart.setOption({ graphic: { elements: G } });
</script>
</body>
</html>
